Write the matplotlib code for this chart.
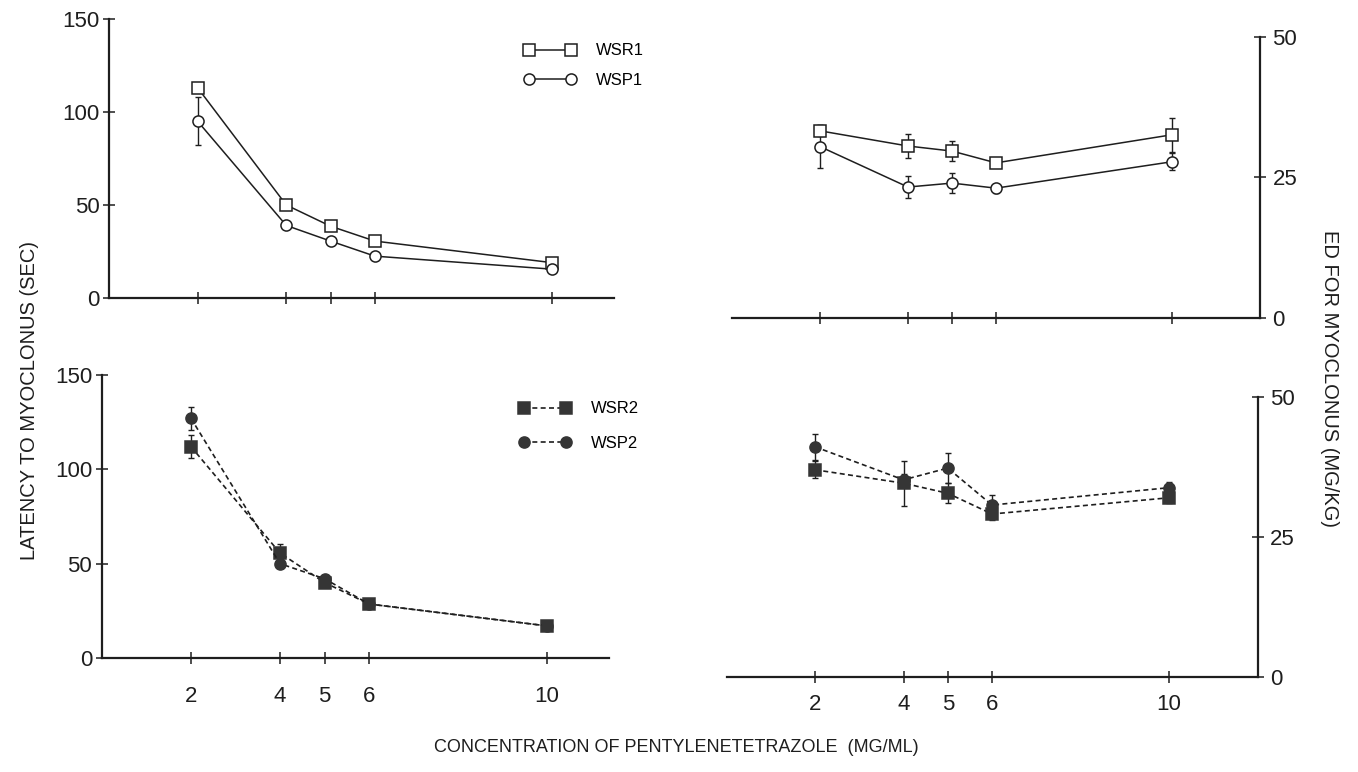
import matplotlib
matplotlib.use('Agg')
import matplotlib.pyplot as plt

plt.rcParams['font.family'] = ['Liberation Sans', 'DejaVu Sans']

conc = [2, 4, 5, 6, 10]
conc_labels = ['2', '4', '5', '6', '10']

# latency to myoclonus (sec)
lat_wsr1 = [113, 50, 38.6, 30.6, 19]
lat_wsr1_err = [2, 1, 1, 1, 1]
lat_wsp1 = [95, 39, 30.6, 22.5, 15.5]
lat_wsp1_err = [13, 1, 1, 1, 1]
lat_wsr2 = [112, 55.6, 40, 28.6, 17]
lat_wsr2_err = [6, 5, 2, 1, 1]
lat_wsp2 = [127, 50, 42, 28.6, 17]
lat_wsp2_err = [6, 2, 2, 1, 1]

# ED for myoclonus (mg/kg)
ed_wsr1 = [33.3, 30.6, 29.7, 27.6, 32.6]
ed_wsr1_err = [1, 2.2, 1.8, 0.8, 3]
ed_wsp1 = [30.5, 23.3, 24, 23.1, 27.8]
ed_wsp1_err = [3.8, 2, 1.8, 0.8, 1.5]
ed_wsr2 = [37, 34.6, 32.8, 29.1, 32]
ed_wsr2_err = [1.5, 4, 1.8, 1, 1]
ed_wsp2 = [41.1, 35.2, 37.3, 30.7, 33.8]
ed_wsp2_err = [2.3, 1, 2.7, 1.8, 1]

INK = '#1e1e1e'
FILL = '#353535'

fig = plt.figure(figsize=(13.58, 7.72), dpi=100)
ax_tl = fig.add_axes([0.0803, 0.6140, 0.3719, 0.3614])
ax_bl = fig.add_axes([0.0751, 0.1477, 0.3736, 0.3666])
ax_tr = fig.add_axes([0.5390, 0.5881, 0.3888, 0.3640])
ax_br = fig.add_axes([0.5350, 0.1231, 0.3910, 0.3627])


def series(ax, y, err, marker, filled, dashed, label):
    ax.errorbar(conc, y, yerr=err, fmt='none', ecolor=INK, elinewidth=1,
                capsize=2.5, capthick=1, zorder=2)
    ax.plot(conc, y, color=INK, lw=1.2 if dashed else 1.1,
            ls=(0, (3, 2)) if dashed else '-',
            marker=marker, ms=8.5 if marker == 's' else 8,
            mfc=FILL if filled else 'white', mec=FILL if filled else INK,
            mew=1.1, label=label, zorder=3)


def style(ax, side, yticks, xlim, ylim, show_x):
    for s in ax.spines.values():
        s.set_visible(False)
    ax.spines['bottom'].set_visible(True)
    ax.spines[side].set_visible(True)
    for s in ('bottom', side):
        ax.spines[s].set_linewidth(1.6)
        ax.spines[s].set_color(INK)
    ax.set_xlim(*xlim)
    ax.set_ylim(*ylim)
    ax.set_xticks(conc)
    ax.set_xticklabels(conc_labels if show_x else [])
    ax.set_yticks(yticks)
    ax.yaxis.set_ticks_position(side)
    ax.tick_params(axis='both', direction='inout', length=8, width=1.1,
                   colors=INK, labelsize=16)
    ax.tick_params(axis='y', pad=3)
    ax.patch.set_alpha(0)


series(ax_tl, lat_wsr1, lat_wsr1_err, 's', False, False, 'WSR1')
series(ax_tl, lat_wsp1, lat_wsp1_err, 'o', False, False, 'WSP1')
series(ax_bl, lat_wsr2, lat_wsr2_err, 's', True, True, 'WSR2')
series(ax_bl, lat_wsp2, lat_wsp2_err, 'o', True, True, 'WSP2')
series(ax_tr, ed_wsr1, ed_wsr1_err, 's', False, False, 'WSR1')
series(ax_tr, ed_wsp1, ed_wsp1_err, 'o', False, False, 'WSP1')
series(ax_br, ed_wsr2, ed_wsr2_err, 's', True, True, 'WSR2')
series(ax_br, ed_wsp2, ed_wsp2_err, 'o', True, True, 'WSP2')

style(ax_tl, 'left', [0, 50, 100, 150], (0, 11.4), (0, 150), False)
style(ax_bl, 'left', [0, 50, 100, 150], (0, 11.4), (0, 150), True)
style(ax_tr, 'right', [0, 25, 50], (0, 12), (0, 50), False)
style(ax_br, 'right', [0, 25, 50], (0, 12), (0, 50), True)
ax_tr.tick_params(axis='y', pad=5)
ax_br.tick_params(axis='y', pad=5)
ax_bl.tick_params(axis='x', pad=16)
ax_br.tick_params(axis='x', pad=8)

ax_tl.legend(loc='center left', bbox_to_anchor=(524 / 1358, 1 - 65.5 / 772),
             bbox_transform=fig.transFigure, frameon=False, numpoints=2,
             handlelength=3.1, handletextpad=1.2, labelspacing=0.85,
             borderpad=0, borderaxespad=0, prop={'size': 12})
ax_bl.legend(loc='center left', bbox_to_anchor=(519 / 1358, 1 - 426 / 772),
             bbox_transform=fig.transFigure, frameon=False, numpoints=2,
             handlelength=3.1, handletextpad=1.2, labelspacing=1.15,
             borderpad=0, borderaxespad=0, prop={'size': 12})

fig.text(0.022, 1 - 400 / 772, 'LATENCY TO MYOCLONUS (SEC)', rotation=90,
         ha='center', va='center', fontsize=14.5, color=INK)
fig.text(0.979, 1 - 378 / 772, 'ED FOR MYOCLONUS (MG/KG)', rotation=270,
         ha='center', va='center', fontsize=14.5, color=INK)
fig.text(0.498, 1 - 748 / 772, 'CONCENTRATION OF PENTYLENETETRAZOLE  (MG/ML)',
         ha='center', va='center', fontsize=13, color=INK)

fig.savefig('out.png', dpi=100, facecolor='white')
